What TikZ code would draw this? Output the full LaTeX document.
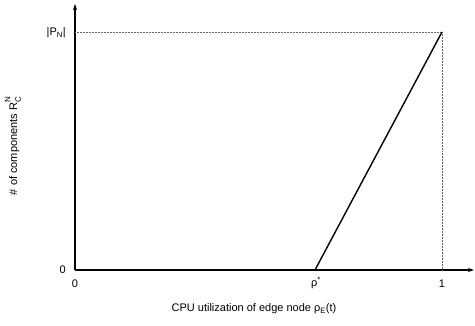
\documentclass[tikz,border=0pt]{standalone}
\usepackage{fontspec}
\setmainfont{Liberation Sans}
\usetikzlibrary{arrows.meta}
\newcommand{\supsub}[2]{\rlap{\raisebox{0.6em}{\fontsize{8}{9}\selectfont #1}}\raisebox{-0.35em}{\fontsize{8}{9}\selectfont #2}}
\begin{document}
\begin{tikzpicture}[x=1pt,y=-1pt,
  axis/.style={line width=1.4pt,-{Stealth[length=6pt,width=4pt]}},
  guide/.style={densely dotted,line width=0.5pt,black!60},
  curve/.style={line width=1.4pt},
  lbl/.style={font=\fontsize{11}{13}\selectfont,inner sep=1pt}]
\useasboundingbox (0,0) rectangle (475,326);
% axes
\coordinate (o) at (75,270);
\coordinate (xend) at (474,270);
\coordinate (yend) at (75,4);
\draw[axis] (o) -- (xend);
\draw[axis] (o) -- (yend);
% key points
\coordinate (rs) at (315,270);
\coordinate (top) at (442,32);
\coordinate (ytop) at (75,32);
\coordinate (xone) at (442,270);
% guides
\draw[guide] (ytop) -- (top) -- (xone);
% characteristic
\draw[curve] (o) -- (rs) -- (top);
% tick labels
\node[lbl,anchor=east] (y0) at (67,270) {0};
\node[lbl,anchor=east] (ypn) at (67,33) {|P\textsubscript{N}|};
\node[lbl] (x0) at (75,284) {0};
\node[lbl] (xrho) at (316,283) {ρ\textsuperscript{*}};
\node[lbl] (x1) at (442,284) {1};
% axis titles
\node[lbl] (xl) at (254,309) {CPU utilization of edge node ρ\textsubscript{E}(t)};
\node[lbl,rotate=90] (yl) at (13,146) {\# of components R\supsub{N}{C}};
\end{tikzpicture}
\end{document}
